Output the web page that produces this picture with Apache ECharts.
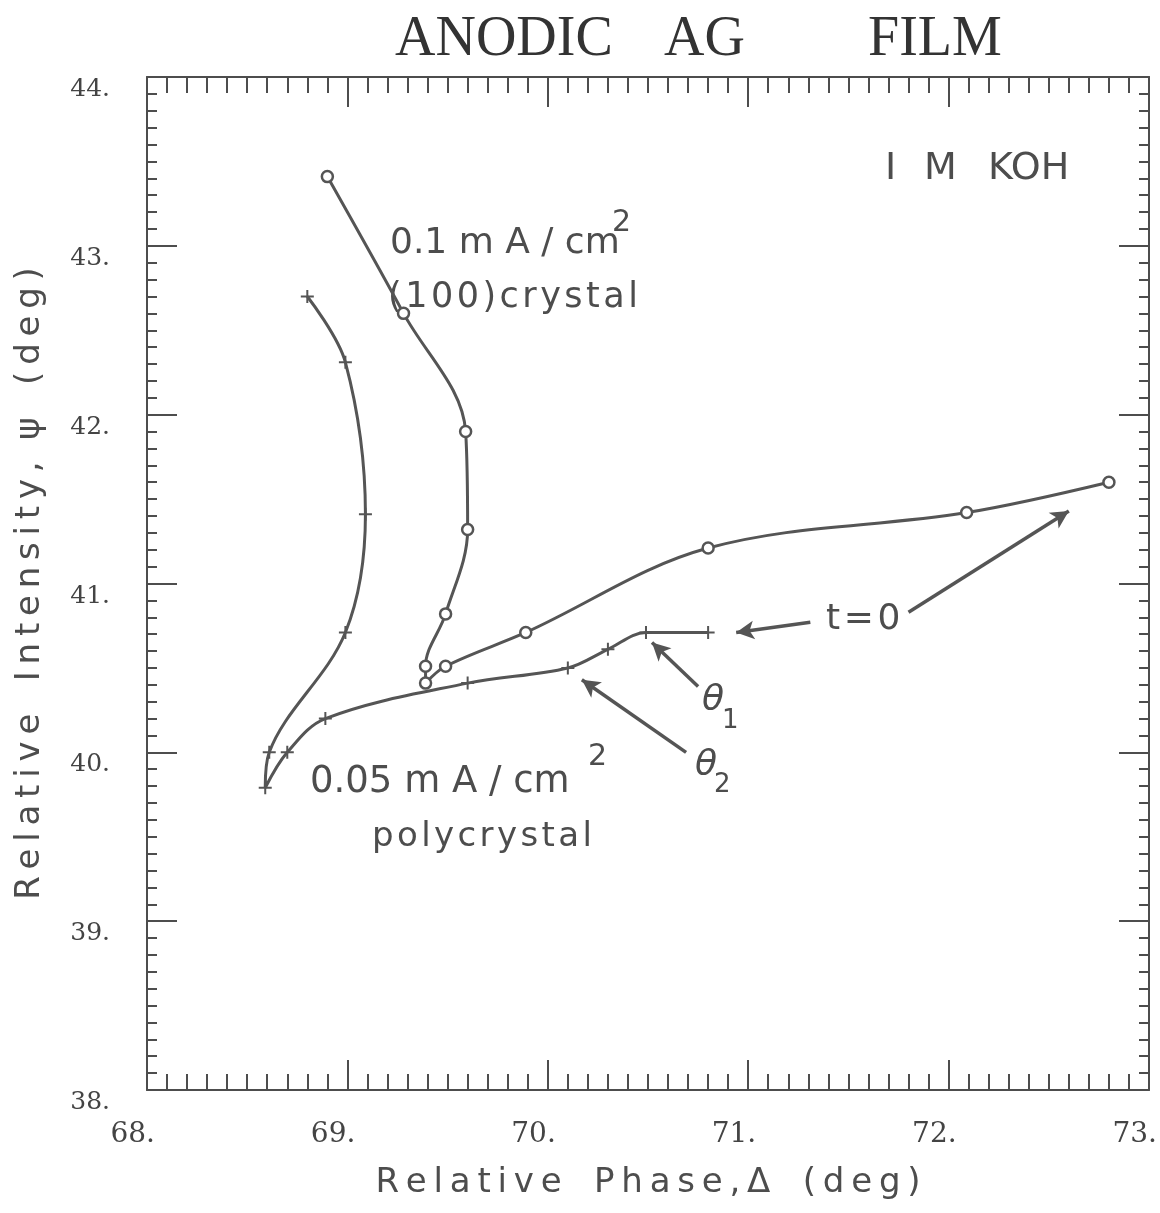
<!DOCTYPE html>
<html style="height: 100%">
<head>
    <meta charset="utf-8">
</head>
<body style="height: 100%; margin: 0; background: #fff">
    <div id="container" style="width: 1160px; height: 1213px"></div>
    <script type="text/javascript" src="https://cdn.jsdelivr.net/npm/echarts@6/dist/echarts.min.js"></script>
    <script type="text/javascript">
// 0.1 mA/cm2, (100) crystal -- circles, starting at t=0
var phaseA = [72.80, 72.09, 70.80, 69.89, 69.49, 69.39, 69.39, 69.49, 69.60, 69.59, 69.28, 68.90];
var intensA = [41.60, 41.42, 41.21, 40.71, 40.51, 40.41, 40.51, 40.82, 41.32, 41.90, 42.60, 43.41];
// 0.05 mA/cm2, polycrystal -- crosses, starting at t=0
var phaseB = [70.80, 70.49, 70.30, 70.10, 69.60, 68.89, 68.70, 68.59, 68.61, 68.99, 69.09, 68.99, 68.80];
var intensB = [40.71, 40.71, 40.61, 40.50, 40.41, 40.20, 40.00, 39.79, 40.00, 40.71, 41.41, 42.31, 42.70];
// annotation arrows [fromX, fromY, toX, toY]
var arrows = [
    [71.80, 40.83, 72.60, 41.43],
    [71.31, 40.77, 70.94, 40.71],
    [70.75, 40.39, 70.52, 40.65],
    [70.69, 40.00, 70.17, 40.43]
];
var xTicks = [68, 73, 1];
var yTicks = [38, 44, 1];

var ink = '#4d4d4d';
var spaced = function (s) { return s.split('').join('\u2009'); };
var hair = function (s) { return s.split('').join('\u200a'); };
var pairs = function (xs, ys) {
    var res = [];
    for (var i = 0; i < xs.length; i++) res.push([xs[i], ys[i]]);
    return res;
};

var dom = document.getElementById("container");
var myChart = echarts.init(dom);

var letter = function (left, top, text, size, style) {
    return {
        type: 'text', left: left, top: top,
        style: { text: text, font: (style || '') + (size || 34) + 'px "DejaVu Sans"', fill: ink }
    };
};

option = {
    animation: false,
    backgroundColor: '#fff',
    grid: { left: 147, right: 10, top: 77, bottom: 123 },
    xAxis: [
        {
            type: 'value', min: xTicks[0], max: xTicks[1], interval: xTicks[2],
            position: 'bottom',
            axisLine: { show: true, lineStyle: { color: ink, width: 2 } },
            axisTick: { show: true, inside: true, length: 30, lineStyle: { color: ink, width: 2 } },
            minorTick: { show: true, splitNumber: 10, length: 16, lineStyle: { color: ink, width: 2 } },
            splitLine: { show: false },
            axisLabel: {
                margin: 31, align: 'right', padding: [0, -8, 0, 0],
                fontFamily: 'DejaVu Serif', fontSize: 28, color: '#444',
                formatter: function (v) { return v + '.'; }
            },
            name: spaced('Relative') + '   ' + spaced('Phase,\u0394') + '   ' + spaced('(deg)'),
            nameLocation: 'middle', nameGap: 76,
            nameTextStyle: { fontFamily: 'DejaVu Sans', fontSize: 34, color: ink }
        },
        {
            type: 'value', min: xTicks[0], max: xTicks[1], interval: xTicks[2],
            position: 'top',
            axisLine: { show: true, lineStyle: { color: ink, width: 2 } },
            axisTick: { show: true, inside: true, length: 30, lineStyle: { color: ink, width: 2 } },
            minorTick: { show: true, splitNumber: 10, length: 16, lineStyle: { color: ink, width: 2 } },
            splitLine: { show: false },
            axisLabel: { show: false }
        }
    ],
    yAxis: [
        {
            type: 'value', min: yTicks[0], max: yTicks[1], interval: yTicks[2],
            position: 'left',
            axisLine: { show: true, lineStyle: { color: ink, width: 2 } },
            axisTick: { show: true, inside: true, length: 30, lineStyle: { color: ink, width: 2 } },
            minorTick: { show: true, splitNumber: 10, length: 10, lineStyle: { color: ink, width: 2 } },
            splitLine: { show: false },
            axisLabel: {
                margin: 37, verticalAlign: 'top',
                fontFamily: 'DejaVu Serif', fontSize: 25, color: '#444',
                formatter: function (v) { return v + '.'; }
            },
            name: spaced('Relative') + '   ' + spaced('Intensity,') + '  \u03c8   ' + spaced('(deg)'),
            nameLocation: 'middle', nameGap: 100, nameRotate: 90,
            nameTextStyle: { fontFamily: 'DejaVu Sans', fontSize: 34, color: ink }
        },
        {
            type: 'value', min: yTicks[0], max: yTicks[1], interval: yTicks[2],
            position: 'right',
            axisLine: { show: true, lineStyle: { color: ink, width: 2 } },
            axisTick: { show: true, inside: true, length: 30, lineStyle: { color: ink, width: 2 } },
            minorTick: { show: true, splitNumber: 10, length: 10, lineStyle: { color: ink, width: 2 } },
            splitLine: { show: false },
            axisLabel: { show: false }
        }
    ],
    graphic: [
        { type: 'text', left: 395, top: 12, style: { text: 'ANODIC', font: '56px "Liberation Serif"', fill: '#333' } },
        { type: 'text', left: 664, top: 12, style: { text: 'AG', font: '56px "Liberation Serif"', fill: '#333' } },
        { type: 'text', left: 868, top: 12, style: { text: 'FILM', font: '56px "Liberation Serif"', fill: '#333' } },
        letter(885, 150, 'I', 38),
        letter(924, 150, 'M', 38),
        letter(988, 150, 'KOH', 38),
        letter(390, 226, '0.1 m A / cm', 36),
        letter(612, 208, '2', 30),
        letter(388, 280, hair('(100)crystal'), 35),
        letter(310, 764, '0.05 m A / cm', 37),
        letter(588, 742, '2', 30),
        letter(372, 820, hair('polycrystal'), 34),
        letter(826, 602, hair('t=0'), 36),
        letter(702, 683, '\u03b8', 36, 'italic '),
        letter(722, 708, '1', 26),
        letter(695, 748, '\u03b8', 36, 'italic '),
        letter(714, 772, '2', 26)
    ],
    series: [
        {
            name: '0.1 mA/cm2 (100) crystal',
            type: 'line',
            data: pairs(phaseA, intensA),
            smooth: 0.35,
            symbol: 'circle',
            symbolSize: 11,
            lineStyle: { color: '#555', width: 3 },
            itemStyle: { color: '#fff', borderColor: '#555', borderWidth: 2.5 },
            z: 3
        },
        {
            name: '0.05 mA/cm2 polycrystal',
            type: 'line',
            data: pairs(phaseB, intensB),
            smooth: 0.35,
            symbol: 'path://M0,5L10,5M5,0L5,10',
            symbolSize: 13,
            lineStyle: { color: '#555', width: 3 },
            itemStyle: { color: 'none', borderColor: '#555', borderWidth: 2 },
            markLine: {
                silent: true,
                symbol: ['none', 'arrow'],
                symbolSize: [14, 18],
                label: { show: false },
                lineStyle: { type: 'solid', color: '#555', width: 3.5 },
                data: arrows.map(function (a) {
                    return [{ coord: [a[0], a[1]] }, { coord: [a[2], a[3]] }];
                })
            },
            z: 2
        }
    ]
};
if (option && typeof option === "object") {
    myChart.setOption(option, true);
}
    </script>
</body>
</html>
